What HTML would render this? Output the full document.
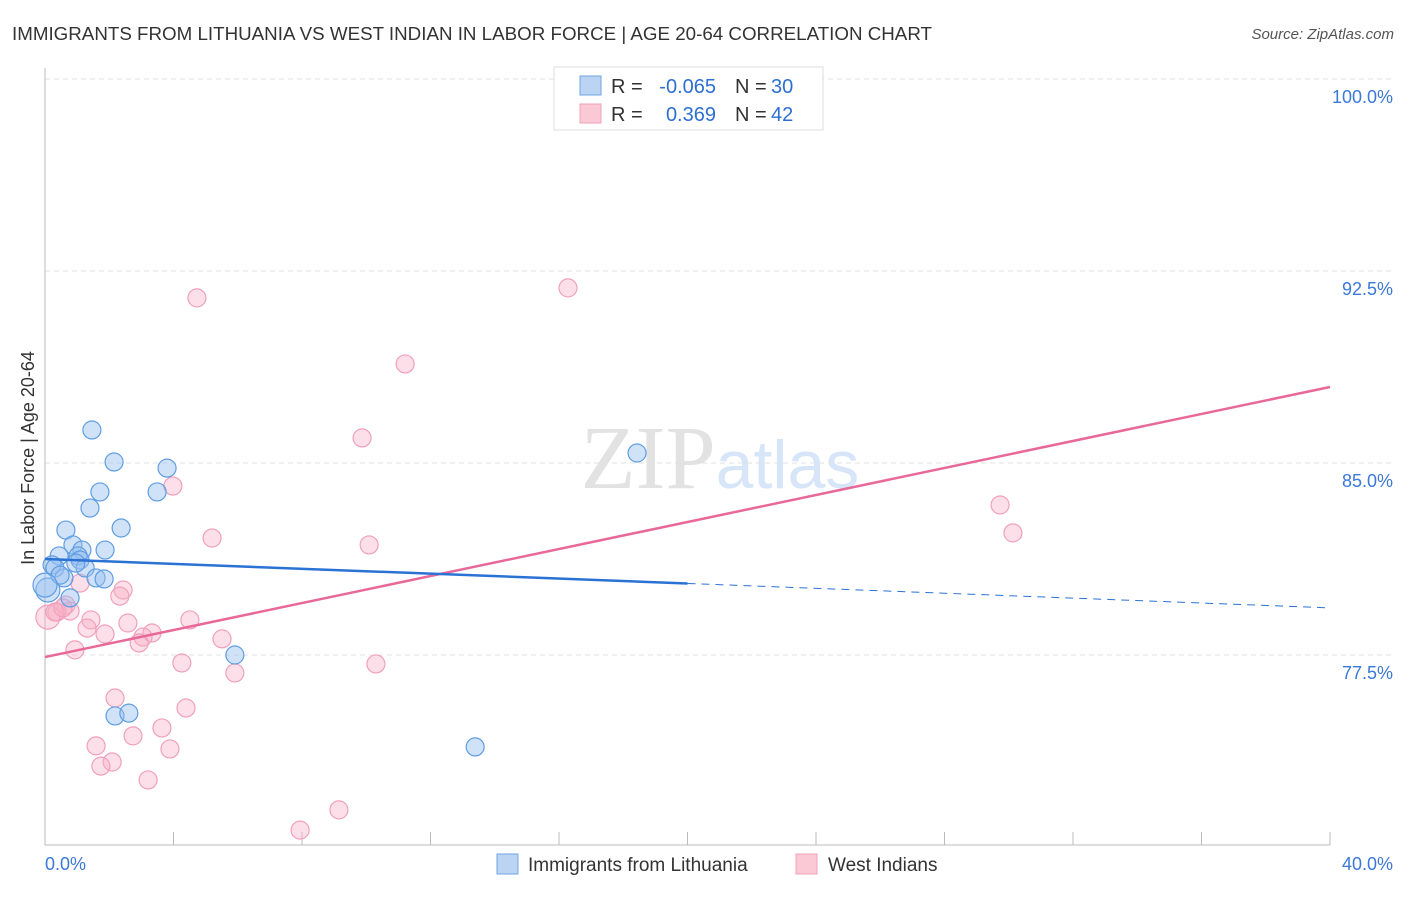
<!DOCTYPE html>
<html><head><meta charset="utf-8"><style>
body{margin:0;background:#fff;font-family:"Liberation Sans",sans-serif}
</style></head><body>
<svg width="1406" height="892" xmlns="http://www.w3.org/2000/svg" font-family="Liberation Sans, sans-serif">
<text x="12" y="40" font-size="18" fill="#333" textLength="920" lengthAdjust="spacingAndGlyphs">IMMIGRANTS FROM LITHUANIA VS WEST INDIAN IN LABOR FORCE | AGE 20-64 CORRELATION CHART</text>
<text x="1394" y="39" font-size="15" fill="#555" text-anchor="end" font-style="italic">Source: ZipAtlas.com</text>
<text x="720" y="488" font-size="90" text-anchor="middle" fill="#e2e2e2" font-family="Liberation Serif, serif">ZIP<tspan fill="#d6e5f7" font-family="Liberation Sans, sans-serif" font-size="68">atlas</tspan></text>
<g id="grid"></g>
<g id="axes"></g>
<g id="marks"></g>
<text transform="translate(34,458) rotate(-90)" font-size="18" fill="#333" text-anchor="middle">In Labor Force | Age 20-64</text>
<g>
<rect x="554" y="67" width="269" height="63" fill="#fff" stroke="#ddd"/>
<rect x="580" y="76" width="21" height="19" fill="#bcd4f3" stroke="#6fa3e3"/>
<rect x="580" y="104" width="21" height="19" fill="#fbc8d6" stroke="#f0a0b8"/>
<text x="611" y="93" font-size="20" fill="#333">R =</text>
<text x="716" y="93" font-size="20" fill="#2d6fd1" text-anchor="end">-0.065</text>
<text x="735" y="93" font-size="20" fill="#333">N =</text>
<text x="771" y="93" font-size="20" fill="#2d6fd1">30</text>
<text x="611" y="121" font-size="20" fill="#333">R =</text>
<text x="716" y="121" font-size="20" fill="#2d6fd1" text-anchor="end">0.369</text>
<text x="735" y="121" font-size="20" fill="#333">N =</text>
<text x="771" y="121" font-size="20" fill="#2d6fd1">42</text>
</g>
<g>
<rect x="497" y="854" width="21" height="20" fill="#bcd4f3" stroke="#6fa3e3"/>
<text x="528" y="871" font-size="19" fill="#333">Immigrants from Lithuania</text>
<rect x="796" y="854" width="21" height="20" fill="#fbc8d6" stroke="#f0a0b8"/>
<text x="828" y="871" font-size="19" fill="#333">West Indians</text>
</g>
</svg>
<script>
const yTicks=[100,92.5,85,77.5];
const yTickLabels=["100.0%","92.5%","85.0%","77.5%"];
const xTickLabels=["0.0%","40.0%"];
const blueX=[1.46,2.15,1.71,1.40,3.49,3.80,0.65,2.37,0.87,1.15,1.87,0.44,0.22,0.31,1.03,1.09,1.25,0.59,1.59,1.84,0.78,0.09,5.91,2.18,2.61,13.39,18.43,0.47,0.0,0.96];
const blueY=[86.29,85.04,83.87,83.24,83.87,84.80,82.38,82.46,81.80,81.60,81.60,81.37,81.02,80.90,81.37,81.21,80.90,80.51,80.51,80.47,79.73,80.04,77.50,75.12,75.23,73.91,85.39,80.62,80.23,81.09];
const pinkX=[4.73,16.28,11.21,9.87,3.98,5.20,10.09,29.73,30.13,1.09,2.43,2.33,0.65,0.78,1.43,0.37,0.09,2.58,4.51,1.31,1.87,3.33,3.05,2.93,5.51,0.93,4.26,10.30,5.91,2.18,4.39,3.64,2.74,1.59,3.89,2.09,1.74,3.21,9.15,7.94,0.31,0.56];
const pinkY=[91.45,91.84,88.87,85.98,84.10,82.07,81.80,83.36,82.27,80.31,80.04,79.80,79.45,79.22,78.87,79.18,78.98,78.75,78.87,78.55,78.32,78.36,78.20,77.97,78.13,77.70,77.19,77.15,76.80,75.82,75.43,74.65,74.34,73.95,73.83,73.32,73.16,72.62,71.45,70.66,79.18,79.34];
const blueTrend=[81.25,79.34];
const pinkTrend=[77.42,87.97];
const NS='http://www.w3.org/2000/svg';
const X=v=>45+v*32.125, Y=v=>79+(100-v)*25.6;
function mk(t,a,p){const e=document.createElementNS(NS,t);for(const k in a)e.setAttribute(k,a[k]);document.getElementById(p).appendChild(e);return e;}
yTicks.forEach((t,i)=>{
 const g=mk('line',{x1:45,x2:1394,y1:Y(t),y2:Y(t),stroke:'#e2e2e2','stroke-dasharray':'5,4'},'grid');
 
 
 const l=mk('text',{x:1393,y:Y(t)+24,'font-size':18,fill:'#3b78d8','text-anchor':'end'},'axes');
 l.textContent=yTickLabels[i];
 
 
});
let a=mk('line',{x1:45,x2:45,y1:68,y2:845,stroke:'#bbb'},'axes');


a=mk('line',{x1:45,x2:1330,y1:845,y2:845,stroke:'#bbb'},'axes');


for(let k=0;k<=10;k++){const t=mk('line',{x1:X(k*4),x2:X(k*4),y1:832,y2:845,stroke:'#bbb'},'axes');
 
 }
[[0,45,'start'],[40,1393,'end']].forEach((d,i)=>{const t=mk('text',{x:d[1],y:870,'font-size':18,fill:'#3b78d8','text-anchor':d[2]},'axes');t.textContent=xTickLabels[i];
 
 });
function pts(xs,ys,fill,stroke,name){xs.forEach((x,i)=>{const c=mk('circle',{cx:X(x),cy:Y(ys[i]),r:(x<0.1?12:9),fill:fill,stroke:stroke,'stroke-width':1.2},'marks');
 
 });}
pts(pinkX,pinkY,'rgba(248,175,198,0.4)','#f0a0bb','west-indian-point');
pts(blueX,blueY,'rgba(150,190,240,0.45)','#5f9de2','lithuania-point');
let L=mk('line',{x1:X(0),y1:Y(pinkTrend[0]),x2:X(40),y2:Y(pinkTrend[1]),stroke:'#e8689a','stroke-width':2.5},'marks');


const bm=blueTrend[0]+(blueTrend[1]-blueTrend[0])*0.5;
L=mk('line',{x1:X(0),y1:Y(blueTrend[0]),x2:X(20),y2:Y(bm),stroke:'#2a72d4','stroke-width':2.5},'marks');


L=mk('line',{x1:X(20),y1:Y(bm),x2:X(40),y2:Y(blueTrend[1]),stroke:'#2a72d4','stroke-width':1,'stroke-dasharray':'8,6'},'marks');


</script>
</body></html>
